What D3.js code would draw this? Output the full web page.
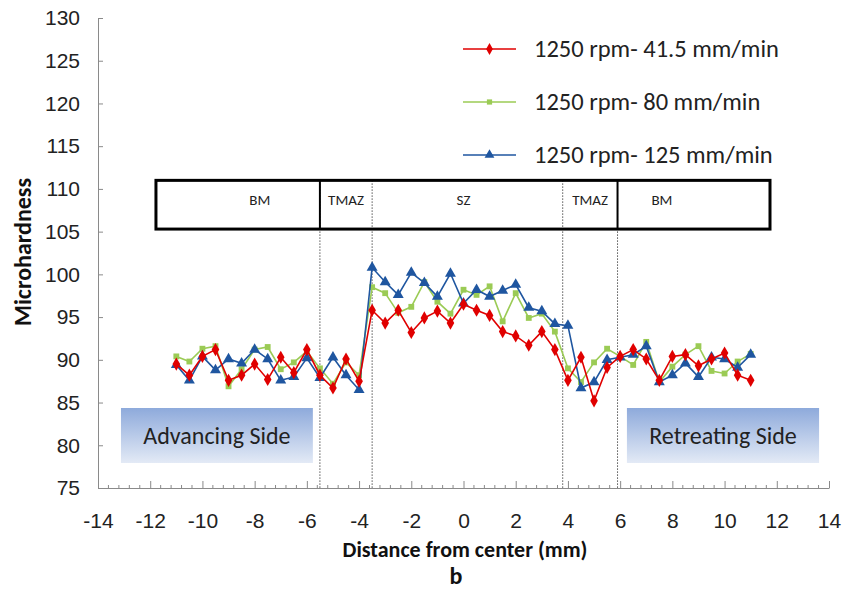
<!DOCTYPE html>
<html><head><meta charset="utf-8">
<script src="https://cdn.jsdelivr.net/npm/d3@7/dist/d3.min.js"></script>
<style>
  body { margin: 0; background: #fff; }
  svg { display: block; font-family: Carlito, Calibri, Lato, sans-serif; }
</style></head>
<body>
<svg id="chart" width="854" height="593"></svg>
<script>
// distance from weld center (mm)
const distance = [-11,-10.5,-10,-9.5,-9,-8.5,-8,-7.5,-7,-6.5,-6,-5.5,-5,-4.5,-4,-3.5,-3,-2.5,-2,-1.5,-1,-0.5,
                  0,0.5,1,1.5,2,2.5,3,3.5,4,4.5,5,5.5,6,6.5,7,7.5,8,8.5,9,9.5,10,10.5,11];
const hv415 = [89.5,88.2,90.4,91.2,87.6,88.2,89.5,87.7,90.3,88.5,91.2,88.2,86.7,90.1,87.5,95.8,94.3,95.8,93.2,94.9,95.7,94.3,
               96.5,95.8,95.2,93.3,92.8,91.7,93.3,91.2,87.6,90.3,85.2,89.1,90.4,91.2,90.1,87.6,90.4,90.6,89.3,90.1,90.8,88.2,87.6];
const hv80  = [90.4,89.8,91.3,91.6,86.9,88.9,91.2,91.5,88.9,89.7,91.0,89.0,87.2,89.7,88.2,98.5,97.8,95.5,96.2,99.1,96.8,95.4,
               98.2,97.6,98.6,94.5,97.8,94.9,95.4,93.3,89.0,87.4,89.7,91.3,90.4,89.4,92.1,87.4,89.2,90.6,91.6,88.7,88.4,89.8,90.7];
const hv125 = [89.4,87.6,90.4,88.8,90.1,89.6,91.2,90.1,87.6,88.0,90.2,87.9,90.3,88.2,86.5,100.8,99.1,97.6,100.2,99.0,97.4,100.1,
               96.6,98.2,97.4,98.1,98.8,96.1,95.7,94.2,94.0,86.7,87.4,90.0,90.3,90.6,91.6,87.4,88.2,89.6,88.0,90.3,90.1,89.1,90.6];
const seriesNames = ["1250 rpm- 41.5 mm/min", "1250 rpm- 80 mm/min", "1250 rpm- 125 mm/min"];

// zone box: edges in mm, labels and their x
const zoneEdges = [-11.78, -5.5, -3.5, 3.8, 5.9, 11.74];
const zoneLabels = ["BM", "TMAZ", "SZ", "TMAZ", "BM"];
const zoneLabelX = [-7.8, -4.5, 0, 4.85, 7.6];
const zoneTop = 111, zoneBottom = 105.3;

const yTicks = [75,80,85,90,95,100,105,110,115,120,125,130];
const xTicks = [-14,-12,-10,-8,-6,-4,-2,0,2,4,6,8,10,12,14];

const svg = d3.select("#chart");
const x = d3.scaleLinear().domain([-14, 14]).range([98, 829]);
const y = d3.scaleLinear().domain([75, 130]).range([488, 18]);
const axisGray = "#8a8a8a";

// gradient for side labels
const defs = svg.append("defs");
const grad = defs.append("linearGradient").attr("id","sideGrad").attr("x1",0).attr("y1",0).attr("x2",0).attr("y2",1);
grad.append("stop").attr("offset","0%").attr("stop-color","#8eaadb");
grad.append("stop").attr("offset","100%").attr("stop-color","#e3eaf6");

// axes
const yAxis = svg.append("g").attr("transform","translate(98,0)")
  .call(d3.axisLeft(y).tickValues(yTicks).tickFormat(d => String(d)).tickSizeInner(-5).tickSizeOuter(0).tickPadding(18));
yAxis.selectAll("text").attr("font-size", 21).attr("fill", "#222");

const xAxis = svg.append("g").attr("transform","translate(0,488)")
  .call(d3.axisBottom(x).tickValues(xTicks).tickFormat(d => String(d)).tickSizeInner(-7).tickSizeOuter(0).tickPadding(25));
xAxis.selectAll("text").attr("font-size", 21).attr("fill", "#222");

// minor x ticks every 0.4 mm
const minor = d3.range(0, 71).map(i => -14 + i * 0.4).filter(v => Math.abs(v / 2 - Math.round(v / 2)) > 0.01);
svg.append("g").selectAll("line").data(minor).join("line")
  .attr("x1", d => x(d)).attr("x2", d => x(d)).attr("y1", 488).attr("y2", 485)
  .attr("stroke", axisGray);

svg.selectAll(".domain, .tick line").attr("stroke", axisGray);

// zone boundary dotted lines
svg.append("g").selectAll("line").data(zoneEdges.slice(1, -1)).join("line")
  .attr("x1", d => x(d)).attr("x2", d => x(d)).attr("y1", y(zoneTop)).attr("y2", 488)
  .attr("stroke", "#555").attr("stroke-width", 1).attr("stroke-dasharray", "1.5,1.5");

// zone box
svg.append("rect")
  .attr("x", x(zoneEdges[0])).attr("y", y(zoneTop))
  .attr("width", x(zoneEdges[5]) - x(zoneEdges[0])).attr("height", y(zoneBottom) - y(zoneTop))
  .attr("fill", "none").attr("stroke", "#000").attr("stroke-width", 3);
svg.append("g").selectAll("line").data([zoneEdges[1], zoneEdges[4]]).join("line")
  .attr("x1", d => x(d)).attr("x2", d => x(d)).attr("y1", y(zoneTop)).attr("y2", y(zoneBottom))
  .attr("stroke", "#000").attr("stroke-width", 2);
svg.append("g").selectAll("text").data(zoneLabels).join("text")
  .attr("x", (d, i) => x(zoneLabelX[i])).attr("y", y(108.1))
  .attr("text-anchor", "middle").attr("font-size", 15).attr("fill", "#222").text(d => d);

// side labels
const sides = [{t: "Advancing Side", x0: -13.12, x1: -5.77}, {t: "Retreating Side", x0: 6.26, x1: 13.62}];
const sg = svg.append("g").selectAll("g").data(sides).join("g");
sg.append("rect").attr("x", d => x(d.x0)).attr("y", 408).attr("width", d => x(d.x1) - x(d.x0)).attr("height", 55)
  .attr("fill", "url(#sideGrad)");
sg.append("text").attr("x", d => (x(d.x0) + x(d.x1)) / 2).attr("y", 444).attr("text-anchor", "middle")
  .attr("font-size", 24).attr("fill", "#222").text(d => d.t);

// series
const series = [
  {name: seriesNames[1], vals: hv80,  color: "#9bcb55", sym: d3.symbolSquare,   size: 34},
  {name: seriesNames[2], vals: hv125, color: "#1f56a0", sym: d3.symbolTriangle, size: 52},
  {name: seriesNames[0], vals: hv415, color: "#e00000", sym: d3.symbolDiamond,  size: 50}
];
const line = d3.line().x((d, i) => x(distance[i])).y(d => y(d));
series.forEach(s => {
  const g = svg.append("g");
  g.append("path").datum(s.vals).attr("d", line).attr("fill", "none")
    .attr("stroke", s.color).attr("stroke-width", 1.6);
  g.selectAll("path.m").data(s.vals).join("path").attr("class", "m")
    .attr("transform", (d, i) => `translate(${x(distance[i])},${y(d)})`)
    .attr("d", d3.symbol(s.sym, s.size)).attr("fill", s.color);
});

// legend
const legendItems = [series[2], series[0], series[1]];
const lg = svg.append("g").selectAll("g").data(legendItems).join("g")
  .attr("transform", (d, i) => `translate(463,${49 + i * 53})`);
lg.append("line").attr("x1", 0).attr("x2", 53).attr("stroke", d => d.color).attr("stroke-width", 1.6);
lg.append("path").attr("transform", "translate(26.5,0)").attr("d", d => d3.symbol(d.sym, d.size * 0.8)()).attr("fill", d => d.color);
lg.append("text").attr("x", 71).attr("y", 8).attr("font-size", 24.5).attr("fill", "#222").text(d => d.name);

// axis titles
svg.append("text").attr("transform", "translate(31,252) rotate(-90)").attr("text-anchor", "middle")
  .attr("font-size", 24).attr("font-weight", "bold").attr("fill", "#111").text("Microhardness");
svg.append("text").attr("x", 465).attr("y", 557).attr("text-anchor", "middle")
  .attr("font-size", 22).attr("font-weight", "bold").attr("fill", "#111").text("Distance from center (mm)");
svg.append("text").attr("x", 456).attr("y", 584).attr("text-anchor", "middle")
  .attr("font-size", 24).attr("font-weight", "bold").attr("fill", "#111").text("b");
</script>
</body></html>
